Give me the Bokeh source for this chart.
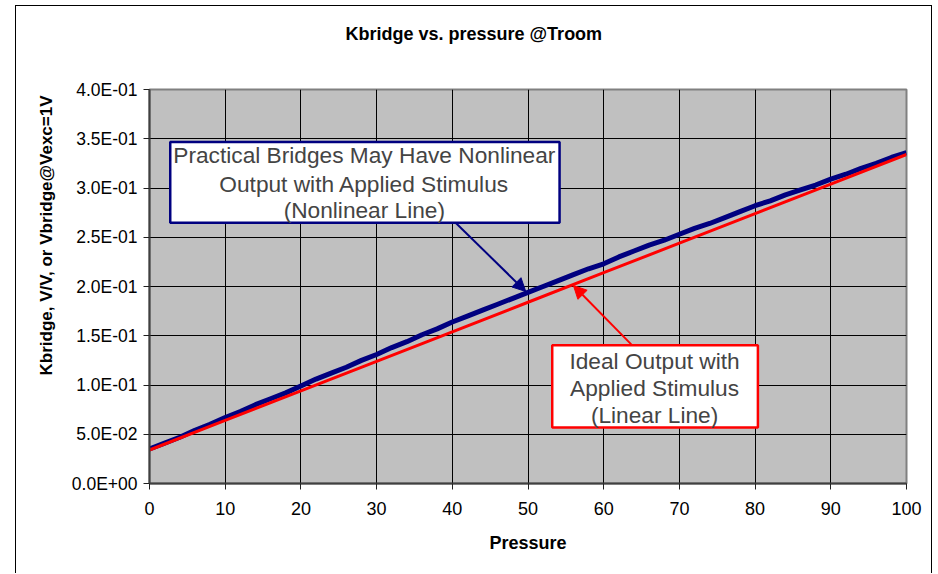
from bokeh.plotting import figure
from bokeh.models import Range1d, FixedTicker, Label, BoxAnnotation, Arrow, NormalHead, Title
from bokeh.embed import file_html
from bokeh.resources import INLINE

# ---------------- data ----------------
pressure = list(range(0, 101, 2))
nonlinear = [0.035, 0.041, 0.047, 0.054, 0.060, 0.067, 0.073, 0.080, 0.086, 0.092,
             0.099, 0.106, 0.112, 0.118, 0.125, 0.131, 0.138, 0.144, 0.151, 0.157,
             0.164, 0.170, 0.176, 0.182, 0.188, 0.194, 0.200, 0.206, 0.212, 0.218,
             0.223, 0.230, 0.236, 0.242, 0.247, 0.253, 0.259, 0.264, 0.270, 0.276,
             0.282, 0.287, 0.293, 0.298, 0.303, 0.309, 0.314, 0.320, 0.325, 0.331,
             0.336]
ideal_pressure = [0, 10, 20, 30, 40, 50, 60, 70, 80, 90, 100]
ideal = [0.034, 0.064, 0.094, 0.124, 0.154, 0.184, 0.214, 0.244, 0.274, 0.304, 0.334]

x_ticks = [0, 10, 20, 30, 40, 50, 60, 70, 80, 90, 100]
y_ticks = [0.0, 0.05, 0.10, 0.15, 0.20, 0.25, 0.30, 0.35, 0.40]
y_tick_labels = ["0.0E+00", "5.0E-02", "1.0E-01", "1.5E-01", "2.0E-01",
                 "2.5E-01", "3.0E-01", "3.5E-01", "4.0E-01"]

title_text = "Kbridge vs. pressure @Troom"
x_title = "Pressure"
y_title = "Kbridge, V/V, or Vbridge@Vexc=1V"
note1 = ["Practical Bridges May Have Nonlinear", "Output with Applied Stimulus", "(Nonlinear Line)"]
note2 = ["Ideal Output with", "Applied Stimulus", "(Linear Line)"]

FONT = "Liberation Sans"
NAVY = "#000080"
RED = "#ff0000"

p = figure(title=None, width=917, height=568, output_backend="svg", toolbar_location=None,
           x_range=Range1d(0, 100), y_range=Range1d(0, 0.4),
           min_border_left=133, min_border_right=27, min_border_top=83, min_border_bottom=91)
p.margin = (5, 0, 0, 15)
p.styles = {"border-left": "1px solid black", "border-top": "1px solid black",
            "border-right": "1px solid black"}
p.background_fill_color = "#c0c0c0"
p.border_fill_color = "white"
p.outline_line_color = "#808080"
p.outline_line_width = 2

# chart title: a blank spacer next to the plot area lifts it to the original height
p.add_layout(Title(text=" ", text_font=FONT, text_font_size="18px", standoff=24), "above")
p.add_layout(Title(text=title_text, align="left", offset=196, standoff=0, text_font=FONT,
                   text_font_size="18px", text_font_style="bold", text_color="black"),
             "above")

# y-axis title placed like the original (not centred on the plot area)
p.add_layout(Title(text=y_title, align="left", offset=108, text_font=FONT,
                   text_font_size="17px", text_font_style="bold", text_color="black",
                   standoff=26), "left")

p.xaxis.ticker = FixedTicker(ticks=x_ticks)
p.yaxis.ticker = FixedTicker(ticks=y_ticks)
p.yaxis.major_label_overrides = {t: l for t, l in zip(y_ticks, y_tick_labels)}
for ax in (p.xaxis[0], p.yaxis[0]):
    ax.minor_tick_line_color = None
    ax.major_tick_in = 0
    ax.major_tick_out = 6
    ax.major_tick_line_color = "#202020"
    ax.axis_line_color = "#404040"
    ax.axis_line_width = 2
    ax.major_label_text_font = FONT
    ax.major_label_text_color = "black"
    ax.axis_label_text_font = FONT
    ax.axis_label_text_font_style = "bold"
    ax.axis_label_text_color = "black"
p.xaxis.major_label_text_font_size = "18px"
p.xaxis.major_label_standoff = 12
p.xaxis.axis_label = x_title
p.xaxis.axis_label_text_font_size = "18px"
p.xaxis.axis_label_standoff = 15
p.yaxis.major_label_text_font_size = "17.5px"
p.yaxis.major_label_standoff = 6

p.grid.grid_line_color = "#000000"
p.grid.grid_line_width = 1
p.xgrid.ticker = FixedTicker(ticks=x_ticks)
p.ygrid.ticker = FixedTicker(ticks=y_ticks)

# series
p.line(pressure, nonlinear, line_color=NAVY, line_width=5)
p.line(ideal_pressure, ideal, line_color=RED, line_width=3)

# callout arrows
p.add_layout(Arrow(x_start=40.4, y_start=0.265, x_end=49.7, y_end=0.195,
                   line_color=NAVY, line_width=2,
                   end=NormalHead(size=13, fill_color=NAVY, line_color=NAVY)))
p.add_layout(Arrow(x_start=63.8, y_start=0.140, x_end=56.0, y_end=0.201,
                   line_color=RED, line_width=2,
                   end=NormalHead(size=13, fill_color=RED, line_color=RED)))

# callout boxes
p.add_layout(BoxAnnotation(left=2.74, right=54.17, top=0.3466, bottom=0.2648,
                           fill_color="white", fill_alpha=1, line_color=NAVY, line_width=2.5,
                           line_alpha=1))
p.add_layout(BoxAnnotation(left=53.2, right=80.37, top=0.1404, bottom=0.0569,
                           fill_color="white", fill_alpha=1, line_color=RED, line_width=2.5,
                           line_alpha=1))

for txt, yy in zip(note1, [0.3331, 0.3044, 0.2773]):
    p.add_layout(Label(x=28.38, y=yy, text=txt, text_font=FONT, text_font_size="22.7px",
                       text_align="center", text_baseline="middle"))
for txt, yy in zip(note2, [0.1244, 0.0965, 0.0694]):
    p.add_layout(Label(x=66.72, y=yy, text=txt, text_font=FONT, text_font_size="22.7px",
                       text_align="center", text_baseline="middle"))

open("out.html", "w").write(file_html(p, INLINE))
